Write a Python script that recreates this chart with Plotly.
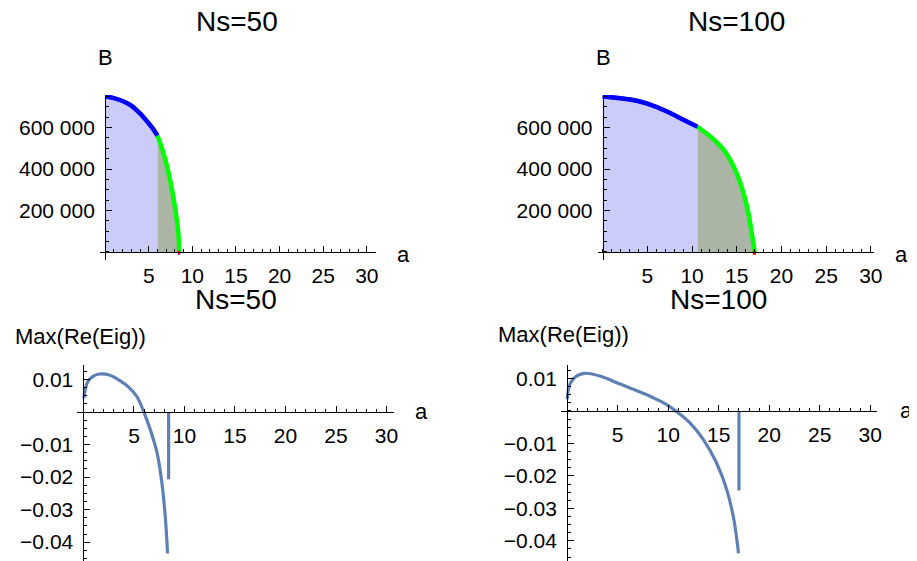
import plotly.graph_objects as go

W, H = 917, 561
OFF = 8  # the page body margin shifts the figure by this many pixels

# ---------------- data ----------------
# Top panels: B vs a
a_blue_50 = [0, 1, 2, 3, 4, 4.6, 5.3, 6.0]
B_blue_50 = [750000, 742000, 728000, 706000, 668000, 640000, 604000, 562000]
a_green_50 = [6.0, 6.7, 7.45, 8.0, 8.4, 8.5]
B_green_50 = [562000, 476000, 347000, 218000, 90000, 0]
a_red_50 = [8.35, 8.6]
B_red_50 = [-4000, -4000]

a_blue_100 = [0, 2, 3.55, 5, 7.26, 9.1, 10.6]
B_blue_100 = [750000, 741000, 732000, 715000, 676000, 636000, 604000]
a_green_100 = [10.6, 12.07, 13.55, 15.0, 16.15, 16.8, 17.0]
B_green_100 = [604000, 556000, 492000, 379000, 218000, 58000, 0]
a_red_100 = [16.8, 17.15]
B_red_100 = [-4000, -4000]

# Bottom panels: Max(Re(Eig)) vs a
a_eig_50 = [0.03, 0.42, 0.91, 1.57, 2.55, 3.53, 4.5, 5.3, 5.98, 6.63, 7.3, 7.77, 8.1, 8.33]
v_eig_50 = [0.0042, 0.0093, 0.0109, 0.0117, 0.0114, 0.0098, 0.0076, 0.0047, 0.0,
            -0.0055, -0.0127, -0.0219, -0.0322, -0.0435]
a_jump_50 = [8.43, 8.43]
v_jump_50 = [0.0, -0.0207]

a_eig_100 = [0.0, 0.3, 0.95, 1.76, 3.4, 5.03, 6.67, 8.3, 9.6, 10.75, 12.2, 13.5,
             14.8, 15.8, 16.5, 16.96]
v_eig_100 = [0.0036, 0.0085, 0.0108, 0.0116, 0.0106, 0.0085, 0.0065, 0.0044, 0.0024,
             0.0, -0.0038, -0.0089, -0.0161, -0.0243, -0.0335, -0.0438]
a_jump_100 = [17.0, 17.0]
v_jump_100 = [0.0, -0.0245]

x_tickvals = [5, 10, 15, 20, 25, 30]
x_ticktext = ["5", "10", "15", "20", "25", "30"]
B_tickvals = [200000, 400000, 600000]
B_ticktext = ["200 000", "400 000", "600 000"]
v_tickvals = [0.01, -0.01, -0.02, -0.03, -0.04]
v_ticktext = ["0.01", "\u22120.01", "\u22120.02", "\u22120.03", "\u22120.04"]

titles = ["Ns=50", "Ns=100", "Ns=50", "Ns=100"]

# ---------------- layout geometry (pixels, as seen on the page) ----------------
panels = [
    dict(xpix=(100.7, 378.8), xr=(-0.6, 31.0), ypix=(95, 260), yr=(-38600, 757000)),
    dict(xpix=(603, 882), xr=(-0.55, 30.4), ypix=(95, 260), yr=(-38600, 757000)),
    dict(xpix=(78, 397), xr=(-0.6, 30.7), ypix=(365, 561), yr=(-0.0458, 0.01446)),
    dict(xpix=(566, 885), xr=(-0.6, 30.7), ypix=(365, 561), yr=(-0.0462, 0.01415)),
]

def fx(x):
    return (x - OFF) / W

def fy(y):
    return 1 - (y - OFF) / H

FONT = "Liberation Sans, Arial, sans-serif"
TICK_SIZE = 21
BLUE, GREEN, RED = "#0000FF", "#00FF00", "#FF0000"
FILL_BLUE, FILL_GREEN = "#CCCCFA", "#AAB5A5"
EIG = "#5E81B5"

fig = go.Figure()

def ax(i):
    return ("x" if i == 0 else f"x{i+1}"), ("y" if i == 0 else f"y{i+1}")

# top panels
for i, (ab, Bb, ag, Bg, ar, Br) in enumerate([
        (a_blue_50, B_blue_50, a_green_50, B_green_50, a_red_50, B_red_50),
        (a_blue_100, B_blue_100, a_green_100, B_green_100, a_red_100, B_red_100)]):
    xa, ya = ax(i)
    fig.add_trace(go.Scatter(x=ab, y=Bb, mode="lines", line=dict(color=BLUE, width=4, shape="spline"),
                             fill="tozeroy", fillcolor=FILL_BLUE, xaxis=xa, yaxis=ya, showlegend=False))
    fig.add_trace(go.Scatter(x=ag, y=Bg, mode="lines", line=dict(color=GREEN, width=4.5, shape="spline"),
                             fill="tozeroy", fillcolor=FILL_GREEN, xaxis=xa, yaxis=ya, showlegend=False))
    fig.add_trace(go.Scatter(x=ab, y=Bb, mode="lines", line=dict(color=BLUE, width=4.5, shape="spline"),
                             xaxis=xa, yaxis=ya, showlegend=False))
    fig.add_trace(go.Scatter(x=ar, y=Br, mode="lines", line=dict(color=RED, width=4),
                             xaxis=xa, yaxis=ya, showlegend=False))

# bottom panels
for j, (ae, ve, aj, vj) in enumerate([
        (a_eig_50, v_eig_50, a_jump_50, v_jump_50),
        (a_eig_100, v_eig_100, a_jump_100, v_jump_100)]):
    xa, ya = ax(j + 2)
    fig.add_trace(go.Scatter(x=ae, y=ve, mode="lines", line=dict(color=EIG, width=3.2, shape="spline"),
                             xaxis=xa, yaxis=ya, showlegend=False))
    fig.add_trace(go.Scatter(x=aj, y=vj, mode="lines", line=dict(color=EIG, width=3.2),
                             xaxis=xa, yaxis=ya, showlegend=False))

layout = dict(
    width=W, height=H, margin=dict(l=0, r=0, t=0, b=0),
    paper_bgcolor="white", plot_bgcolor="rgba(0,0,0,0)",
    font=dict(family=FONT, size=20, color="black"),
)

for i, p in enumerate(panels):
    x0, x1 = p["xpix"]
    y0, y1 = p["ypix"]
    xr, yr = p["xr"], p["yr"]
    # pixel location of the origin (a=0, value=0)
    zero_x = x0 + (0 - xr[0]) / (xr[1] - xr[0]) * (x1 - x0)
    zero_y = y1 - (0 - yr[0]) / (yr[1] - yr[0]) * (y1 - y0)
    suffix = "" if i == 0 else str(i + 1)
    top = i < 2
    layout["xaxis" + suffix] = dict(
        domain=[fx(x0), fx(x1)], range=list(xr), anchor="free", position=fy(zero_y),
        showline=True, linecolor="black", linewidth=1, showgrid=False, zeroline=False,
        ticks="inside", ticklen=6, tickwidth=1, tickcolor="black", ticklabelstandoff=5,
        tickvals=x_tickvals, ticktext=x_ticktext, tickfont=dict(size=TICK_SIZE),
        minor=dict(ticks="inside", ticklen=3, tickwidth=1, tickcolor="black", tick0=0, dtick=1),
    )
    layout["yaxis" + suffix] = dict(
        domain=[fy(y1), fy(y0)], range=list(yr), anchor="free", position=fx(zero_x),
        showline=True, linecolor="black", linewidth=1, showgrid=False, zeroline=False,
        ticks="inside", ticklen=6, tickwidth=1, tickcolor="black", ticklabelstandoff=6,
        tickvals=B_tickvals if top else v_tickvals, ticktext=B_ticktext if top else v_ticktext,
        tickfont=dict(size=TICK_SIZE),
        minor=dict(ticks="inside", ticklen=3, tickwidth=1, tickcolor="black", tick0=0,
                   dtick=50000 if top else 0.0025),
    )

def ann(text, x, y, size, xanchor="center"):
    return dict(text=text, x=fx(x), y=fy(y), xref="paper", yref="paper", showarrow=False,
                xanchor=xanchor, yanchor="middle", font=dict(family=FONT, size=size, color="black"))

annotations = [
    ann(titles[0], 239, 22, 28), ann(titles[1], 743, 22, 28),
    ann(titles[2], 238, 299, 28), ann(titles[3], 725, 299, 28),
    ann("B", 106, 57, 22), ann("B", 609, 57, 22),
    ann("a", 407, 254, 22), ann("a", 909, 254, 22),
    ann("Max(Re(Eig))", 81, 336, 22), ann("Max(Re(Eig))", 568, 334, 22),
    ann("a", 425, 411, 22), ann("a", 906, 410, 22, xanchor="left"),
]
layout["annotations"] = annotations

fig.update_layout(**layout)
fig.write_html("out.html")
